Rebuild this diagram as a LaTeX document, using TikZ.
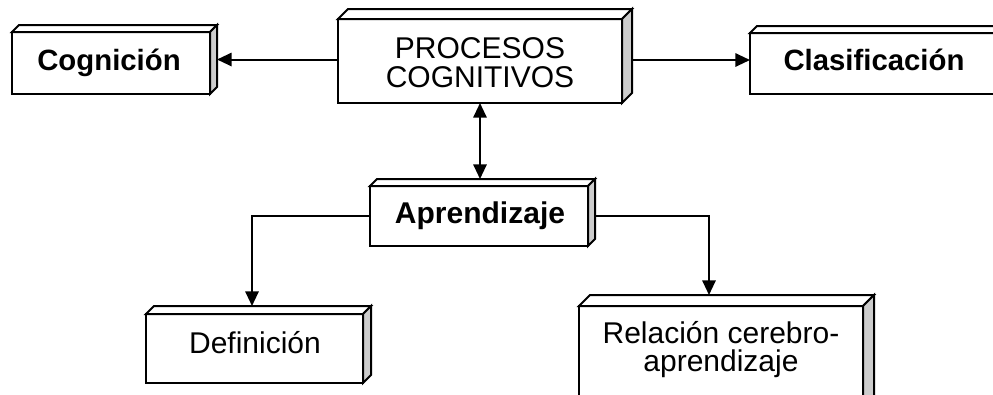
\documentclass[tikz,border=0pt]{standalone}
\usepackage{fontspec}
\setmainfont{Liberation Sans}
\usetikzlibrary{arrows.meta}
\definecolor{sidegray}{RGB}{204,204,204}
\tikzset{
  boxline/.style={draw=black, line width=1.5pt, line join=miter},
  cubebox/.style 2 args={shape=rectangle, inner sep=0pt, outer sep=0pt,
    minimum width=#1*0.75pt, minimum height=#2*0.75pt},
  lbl/.style={inner sep=0pt, anchor=base, align=center,
    font=\fontsize{22.5pt}{21.75pt}\selectfont},
  blbl/.style={lbl, font=\fontsize{22pt}{21.75pt}\selectfont\bfseries},
  conn/.style={line width=1.5pt, -{Triangle[length=11pt,width=10pt]}},
  dconn/.style={line width=1.5pt, {Triangle[length=11pt,width=10pt]}-{Triangle[length=11pt,width=10pt]}}
}
\newcommand\cubefaces[2]{%
  \filldraw[boxline, fill=white] ([shift={(0,#2)}]#1.north west) rectangle ([shift={(-#2,0)}]#1.south east);
  \filldraw[boxline, fill=white] ([shift={(0,#2)}]#1.north west) -- ([shift={(#2,0)}]#1.north west) -- (#1.north east) -- ([shift={(-#2,#2)}]#1.north east) -- cycle;
  \filldraw[boxline, fill=sidegray] ([shift={(-#2,#2)}]#1.north east) -- (#1.north east) -- ([shift={(0,-#2)}]#1.south east) -- ([shift={(-#2,0)}]#1.south east) -- cycle;
}
\begin{document}
\begin{tikzpicture}[x=0.75pt,y=-0.75pt]
\clip (0,0) rectangle (993,394);
\fill[white] (0,0) rectangle (993,394);
% box nodes (full extent including depth)
\node[cubebox={205}{69}] (cog) at (114.5,59.5) {};
\node[cubebox={294}{94}] (proc) at (485,56) {};
\node[cubebox={257}{68}] (clas) at (878.5,60) {};
\node[cubebox={225}{67}] (apr) at (482.5,212.5) {};
\node[cubebox={225}{77}] (def) at (258.5,344.5) {};
\node[cubebox={295}{112}] (rel) at (726.5,351) {};
\cubefaces{cog}{7}
\cubefaces{proc}{10}
\cubefaces{clas}{7}
\cubefaces{apr}{7}
\cubefaces{def}{8}
\cubefaces{rel}{11}
% texts
\node[blbl] (cogt) at (109,70) {Cognición};
\node[lbl] (proct) at (480,87) {PROCESOS\\COGNITIVOS};
\node[blbl] (clast) at (874,70) {Clasificación};
\node[blbl, font=\fontsize{22.5pt}{21.75pt}\selectfont\bfseries] (aprt) at (480,223) {Aprendizaje};
\node[lbl] (deft) at (255,353) {Definición};
\node[lbl, font=\fontsize{22.5pt}{20.5pt}\selectfont] (relt) at (721,371) {Relación cerebro-\\aprendizaje};
% connectors
\draw[conn] (proc.west |- cog.east) -- (cog.east);
\draw[conn] (proc.east |- clas.west) -- (clas.west);
\draw[dconn] ([shift={(-5,0)}]proc.south) -- ([shift={(-2.5,0)}]apr.north);
\draw[conn] ([shift={(0,3.5)}]apr.west) -| ([shift={(-6.5,0)}]def.north);
\draw[conn] ([shift={(0,3.5)}]apr.east) -| ([shift={(-17.5,0)}]rel.north);
\end{tikzpicture}
\end{document}
